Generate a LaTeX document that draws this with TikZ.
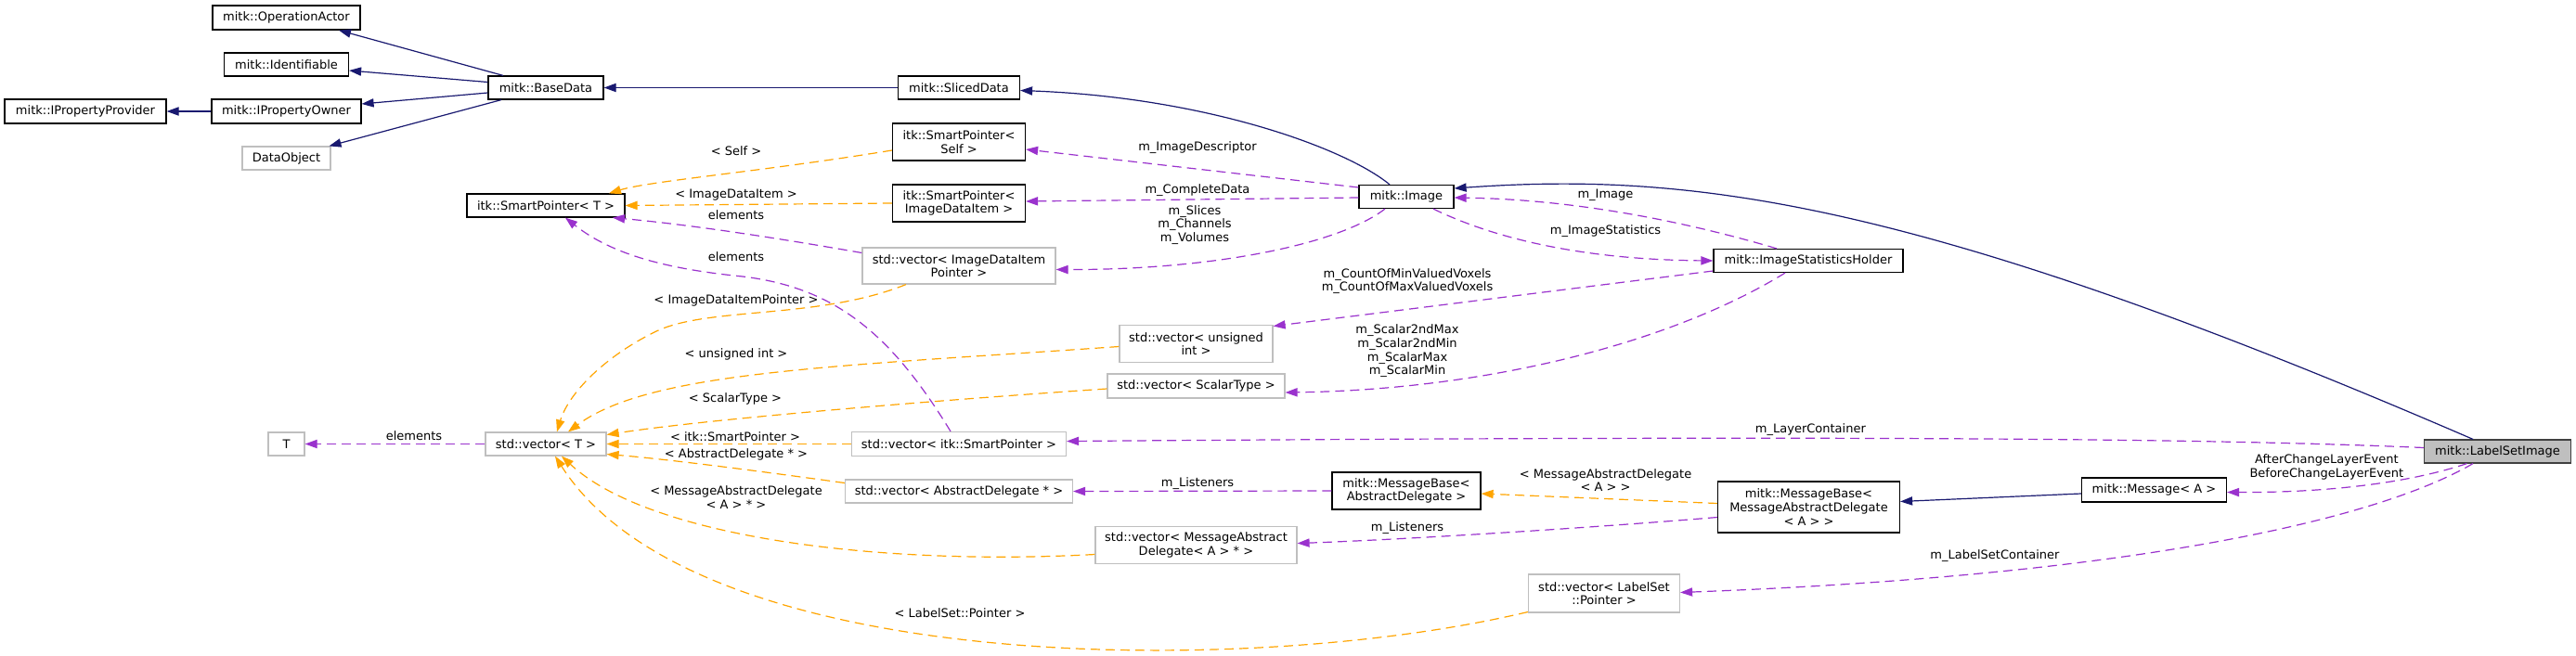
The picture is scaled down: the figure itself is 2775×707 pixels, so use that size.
\documentclass[tikz,border=0pt]{standalone}
\usepackage{fontspec}
\setmainfont{DejaVu Sans}
\usetikzlibrary{arrows.meta,calc}
\definecolor{navy}{HTML}{191970}
\definecolor{orch}{HTML}{9A32CD}
\definecolor{orng}{HTML}{FFA500}
\definecolor{gbord}{HTML}{BFBFBF}
\definecolor{dbord}{HTML}{404040}
\begin{document}
\begin{tikzpicture}[x=0.5pt,y=-0.5pt,
  font=\fontsize{6.5}{7.35}\selectfont,
  cls/.style={draw=black, line width=0.6pt, fill=white, inner sep=0pt, align=center},
  ext/.style={cls, draw=gbord},
  sz/.style 2 args={minimum width=#1*0.5pt, minimum height=#2*0.5pt},
  lbl/.style={inner sep=0pt, align=center},
  tipstyle/.style={-{Triangle[length=6.5pt,width=4.6pt]}},
  inh/.style={draw=navy, line width=0.6pt, tipstyle},
  dep/.style={draw=orch, line width=0.6pt, dash pattern=on 5pt off 3pt, tipstyle},
  tmpl/.style={draw=orng, line width=0.6pt, dash pattern=on 5pt off 3pt, tipstyle}]
\fill[white] (0,0) rectangle (2775,707);
\useasboundingbox (0,0) rectangle (2775,707);
% nodes
\node[cls, sz={159}{26}] (opact) at (308.5,19) {mitk::OperationActor};
\node[cls, sz={134}{25}] (ident) at (308.5,69.5) {mitk::Identifiable};
\node[cls, sz={161}{26}] (iown) at (308.5,120) {mitk::IPropertyOwner};
\node[cls, sz={174}{26}] (iprov) at (92,120) {mitk::IPropertyProvider};
\node[ext, sz={95}{25}] (dobj) at (308.5,170.5) {DataObject};
\node[cls, sz={124}{25}] (base) at (588,94.5) {mitk::BaseData};
\node[cls, sz={131}{25}] (sliced) at (1033,94.5) {mitk::SlicedData};
\node[cls, sz={143}{40}] (spself) at (1033,153) {itk::SmartPointer<\\Self >};
\node[cls, sz={143}{40}] (spidi) at (1033,219) {itk::SmartPointer<\\ImageDataItem >};
\node[cls, sz={170}{25}] (spt) at (588,221.5) {itk::SmartPointer< T >};
\node[ext, sz={208}{39}] (vidip) at (1033,286.5) {std::vector< ImageDataItem\\Pointer >};
\node[cls, sz={102}{25}] (img) at (1515,212) {mitk::Image};
\node[cls, sz={204}{25}] (ish) at (1948,281) {mitk::ImageStatisticsHolder};
\node[ext, sz={165}{40}] (vui) at (1288.5,370.5) {std::vector< unsigned\\int >};
\node[ext, sz={191}{26}] (vst) at (1288.5,416) {std::vector< ScalarType >};
\node[ext, sz={39}{25}] (tt) at (308.5,478.5) {T};
\node[ext, sz={130}{25}] (vt) at (588,478.5) {std::vector< T >};
\node[ext, sz={231}{26}] (vsp) at (1033,478.5) {std::vector< itk::SmartPointer >};
\node[ext, sz={245}{25}] (vad) at (1033,529.5) {std::vector< AbstractDelegate * >};
\node[ext, sz={217}{40}] (vmad) at (1288.5,587.5) {std::vector< MessageAbstract\\Delegate< A > * >};
\node[cls, sz={160}{40}] (mbad) at (1515,529) {mitk::MessageBase<\\AbstractDelegate >};
\node[cls, sz={196}{55}] (mbmad) at (1948.5,546.5) {mitk::MessageBase<\\MessageAbstractDelegate\\< A > >};
\node[ext, sz={163}{41}] (vls) at (1728,639.5) {std::vector< LabelSet\\::Pointer >};
\node[cls, sz={156}{26}] (msga) at (2320.5,528) {mitk::Message< A >};
\node[cls, draw=dbord, fill=gbord, sz={158}{25}] (lsi) at (2690.5,486.5) {mitk::LabelSetImage};
% inheritance
\draw[inh] ($(base.north)+(-46,0)$) -- ($(opact.south)+(56.5,0)$);
\draw[inh] ($(base.west)+(0,-6)$) -- ($(ident.east)+(0,6.5)$);
\draw[inh] ($(base.west)+(0,5.5)$) -- ($(iown.east)+(0,-8)$);
\draw[inh] ($(base.south)+(-48,0)$) -- ($(dobj.north)+(46,0)$);
\draw[inh] (iown.west) -- (iprov.east);
\draw[inh] (sliced.west) -- (base.east);
\draw[inh] ($(img.north)+(-18,0)$) .. controls (1450,160) and (1300,105) .. ($(sliced.east)+(0,3)$);
\draw[inh] ($(lsi.north)+(-26.5,0)$) .. controls (2064,214) and (1820,185) .. ($(img.east)+(0,-9)$);
\draw[inh] ($(msga.west)+(0,4)$) -- ($(mbmad.east)+(0,-6)$);
% usage
\draw[dep] ($(img.west)+(0,-10)$) -- ($(spself.east)+(0,8)$);
\draw[dep] ($(img.west)+(0,1)$) -- ($(spidi.east)+(0,-2)$);
\draw[dep] ($(img.south)+(-23,0)$) .. controls (1440,265) and (1300,291) .. ($(vidip.east)+(0,4)$);
\draw[dep] ($(vidip.west)+(0,-14)$) .. controls (800,250) and (720,240) .. ($(spt.south)+(72,0)$);
\draw[dep] ($(vsp.north)+(-9,0)$) .. controls (960,360) and (900,310) .. (800,298) .. controls (720,290) and (660,275) .. ($(spt.south)+(21,0)$);
\draw[dep] (vt.west) -- (tt.east);
\draw[dep] ($(ish.north)+(-34,0)$) .. controls (1820,240) and (1700,215) .. ($(img.east)+(0,1)$);
\draw[dep] ($(img.south)+(29,0)$) .. controls (1620,262) and (1720,280) .. (ish.west);
\draw[dep] ($(ish.west)+(0,11)$) -- ($(vui.east)+(0,-19)$);
\draw[dep] ($(ish.south)+(-25,0)$) .. controls (1800,370) and (1600,420) .. ($(vst.east)+(0,7)$);
\draw[dep] ($(lsi.west)+(0,-4)$) .. controls (2350,471) and (1900,470) .. ($(vsp.east)+(0,-3)$);
\draw[dep] (mbad.west) -- (vad.east);
\draw[dep] ($(mbmad.west)+(0,11)$) .. controls (1700,570) and (1500,582) .. ($(vmad.east)+(0,-2)$);
\draw[dep] ($(lsi.south)+(-33,0)$) .. controls (2590,522) and (2500,531) .. ($(msga.east)+(0,2.5)$);
\draw[dep] ($(lsi.south)+(-26.5,0)$) .. controls (2560,560) and (2300,620) .. ($(vls.east)+(0,-1)$);
% templates
\draw[tmpl] ($(spself.west)+(0,9)$) .. controls (820,185) and (700,195) .. ($(spt.north)+(68,0)$);
\draw[tmpl] (spidi.west) -- (spt.east);
\draw[tmpl] ($(vidip.south)+(-57,0)$) .. controls (880,345) and (760,330) .. (705,358) .. controls (650,385) and (612,425) .. ($(vt.north)+(12,0)$);
\draw[tmpl] ($(vui.west)+(0,3)$) .. controls (900,395) and (700,400) .. ($(vt.north)+(24,0)$);
\draw[tmpl] ($(vst.west)+(0,3)$) .. controls (1000,432) and (760,452) .. ($(vt.east)+(0,-10)$);
\draw[tmpl] (vsp.west) -- (vt.east);
\draw[tmpl] ($(vad.west)+(0,-9)$) .. controls (820,508) and (720,495) .. ($(vt.east)+(0,11)$);
\draw[tmpl] ($(vmad.west)+(0,10)$) .. controls (950,610) and (700,580) .. ($(vt.south)+(17,0)$);
\draw[tmpl] ($(vls.west)+(0,20)$) .. controls (1350,730) and (750,730) .. ($(vt.south)+(10,0)$);
\draw[tmpl] ($(mbmad.west)+(0,-4)$) -- ($(mbad.east)+(0,3)$);
% labels
\node[lbl] (la1) at (446,470) {elements};
\node[lbl] (la2) at (793,162.3) {< Self >};
\node[lbl] (la3) at (793,210.3) {< ImageDataItem >};
\node[lbl] (la4) at (793,231.3) {elements};
\node[lbl] (la5) at (793,276.7) {elements};
\node[lbl] (la6) at (793,324.3) {< ImageDataItemPointer >};
\node[lbl] (la7) at (793,382.3) {< unsigned int >};
\node[lbl] (la8) at (792,430.3) {< ScalarType >};
\node[lbl] (la9) at (792,470.3) {< itk::SmartPointer >};
\node[lbl] (la10) at (793,490.3) {< AbstractDelegate * >};
\node[lbl] (la11) at (793,536) {< MessageAbstractDelegate\\< A > * >};
\node[lbl] (la12) at (1034,660.3) {< LabelSet::Pointer >};
\node[lbl] (la13) at (1290,158.7) {m\_ImageDescriptor};
\node[lbl] (la14) at (1290,204.7) {m\_CompleteData};
\node[lbl] (la15) at (1287,242.5) {m\_Slices\\m\_Channels\\m\_Volumes};
\node[lbl] (la16) at (1516,303) {m\_CountOfMinValuedVoxels\\m\_CountOfMaxValuedVoxels};
\node[lbl] (la17) at (1729.5,210.7) {m\_Image};
\node[lbl] (la18) at (1729.5,248.7) {m\_ImageStatistics};
\node[lbl] (la19) at (1516,378.5) {m\_Scalar2ndMax\\m\_Scalar2ndMin\\m\_ScalarMax\\m\_ScalarMin};
\node[lbl] (la20) at (1950.4,462.7) {m\_LayerContainer};
\node[lbl] (la21) at (1290,520.7) {m\_Listeners};
\node[lbl] (la22) at (1729.5,517.5) {< MessageAbstractDelegate\\< A > >};
\node[lbl] (la23) at (1516,568.7) {m\_Listeners};
\node[lbl] (la24) at (2149,599.3) {m\_LabelSetContainer};
\node[lbl] (la25) at (2506.4,503.2) {AfterChangeLayerEvent\\BeforeChangeLayerEvent};
\end{tikzpicture}
\end{document}
